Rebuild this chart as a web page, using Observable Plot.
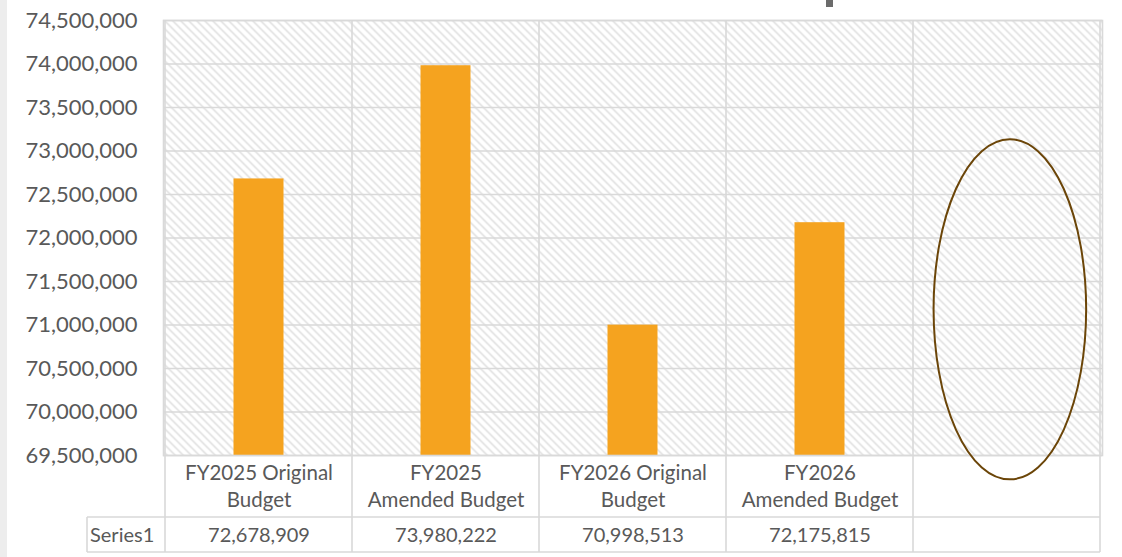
<!DOCTYPE html>
<html><head><meta charset="utf-8">
<script src="https://cdn.jsdelivr.net/npm/d3@7"></script>
<script src="https://cdn.jsdelivr.net/npm/@observablehq/plot@0.6"></script>
<style>
html,body{margin:0;padding:0;background:#fff;}
#wrap{position:relative;width:1122px;height:557px;overflow:hidden;background:#fff;}
#edge{position:absolute;left:0;top:0;width:7px;height:557px;background:#ededed;}
#titlefrag{position:absolute;left:826px;top:0;width:7px;height:7px;background:#6b6b6b;}
#wrap svg{position:absolute;left:0;top:0;}
</style></head>
<body><div id="wrap"><div id="edge"></div><div id="titlefrag"></div></div>
<script>
// ---- data ----
const categories = ["FY2025 Original Budget", "FY2025 Amended Budget", "FY2026 Original Budget", "FY2026 Amended Budget", ""];
const categoryLabels = ["FY2025 Original\nBudget", "FY2025\nAmended Budget", "FY2026 Original\nBudget", "FY2026\nAmended Budget", ""];
const values = [72678909, 73980222, 70998513, 72175815];
const seriesName = "Series1";
const yTicks = [69500000, 70000000, 70500000, 71000000, 71500000, 72000000, 72500000, 73000000, 73500000, 74000000, 74500000];
// annotation ellipse (in 5th category, data units)
const ellipseCategory = "";
const ellipseXFrac = [0.11, 0.926];
const ellipseY = [69220000, 73130000];

const barColor = "#F5A31F";
const textColor = "#595959";
const lineColor = "#d9d9d9";
const fmt = d3.format(",");
const font = "Lato, 'Open Sans', sans-serif";

const rows = values.map((v, i) => ({category: categories[i], label: categoryLabels[i], value: v}));

const chart = Plot.plot({
  width: 1122, height: 557,
  marginLeft: 163, marginRight: 20, marginTop: 20, marginBottom: 102,
  style: {fontFamily: font, background: "transparent", color: textColor, overflow: "visible"},
  x: {domain: categories, padding: 0, axis: null},
  y: {domain: [yTicks[0], yTicks[yTicks.length - 1]], label: null},
  marks: [
    Plot.frame({fill: "url(#hatch)"}),
    Plot.gridY(yTicks, {stroke: lineColor, strokeOpacity: 1, strokeWidth: 1.6}),
    Plot.axisY(yTicks, {tickSize: 0, tickPadding: 26, fontSize: 22, fill: textColor, tickFormat: fmt, label: null}),
    Plot.barY(rows, {x: "category", y1: yTicks[0], y2: "value", fill: barColor, insetLeft: 68.5, insetRight: 68.5}),
    Plot.frame({stroke: lineColor, strokeWidth: 1.6}),
    Plot.text(categories, {x: d => d, text: (d, i) => categoryLabels[i], frameAnchor: "bottom", lineAnchor: "top", dy: 6, lineHeight: 1.3, fontSize: 20.5, fill: textColor}),
    Plot.text(rows, {x: "category", text: d => fmt(d.value), frameAnchor: "bottom", lineAnchor: "middle", dy: 80, fontSize: 20, fill: textColor})
  ]
});

const svg = d3.select(chart);
const defs = svg.insert("defs", ":first-child");
const pat = defs.append("pattern").attr("id", "hatch").attr("patternUnits", "userSpaceOnUse").attr("width", 8).attr("height", 8);
pat.append("rect").attr("width", 8).attr("height", 8).attr("fill", "#fff");
pat.append("path").attr("d", "M-2,-2L10,10M-2,6L2,10M6,-2L10,2").attr("stroke", "#dcdcdc").attr("stroke-width", 1.4).attr("fill", "none");

const xs = chart.scale("x"), ys = chart.scale("y");
const bw = xs.bandwidth;
const bounds = categories.map(c => xs.apply(c)).concat([xs.apply(categories[categories.length - 1]) + bw]);
const yTop = ys.apply(yTicks[yTicks.length - 1]);
const yBottom = ys.apply(yTicks[0]);
const row1 = yBottom + 62, row2 = yBottom + 97;
const seriesLeft = bounds[0] - 78;

const g = svg.append("g").attr("stroke", lineColor).attr("stroke-width", 1.6);
bounds.forEach(b => {
  g.append("line").attr("x1", b).attr("x2", b).attr("y1", yTop).attr("y2", row2);
});
g.append("line").attr("x1", seriesLeft).attr("x2", bounds[bounds.length - 1]).attr("y1", row1).attr("y2", row1);
g.append("line").attr("x1", seriesLeft).attr("x2", bounds[bounds.length - 1]).attr("y1", row2).attr("y2", row2);
g.append("line").attr("x1", seriesLeft).attr("x2", seriesLeft).attr("y1", row1).attr("y2", row2);

svg.append("text").attr("x", seriesLeft + 3).attr("y", (row1 + row2) / 2).attr("dy", "0.35em")
  .attr("text-anchor", "start")
  .attr("font-size", 20).attr("font-family", font).attr("fill", textColor).text(seriesName);

// ellipse annotation
const ex0 = xs.apply(ellipseCategory) + ellipseXFrac[0] * bw;
const ex1 = xs.apply(ellipseCategory) + ellipseXFrac[1] * bw;
const ey0 = ys.apply(ellipseY[1]), ey1 = ys.apply(ellipseY[0]);
svg.append("ellipse").attr("cx", (ex0 + ex1) / 2).attr("cy", (ey0 + ey1) / 2)
  .attr("rx", (ex1 - ex0) / 2).attr("ry", (ey1 - ey0) / 2)
  .attr("fill", "none").attr("stroke", "#6B4508").attr("stroke-width", 2);

document.getElementById("wrap").appendChild(chart);
</script>
</body></html>
